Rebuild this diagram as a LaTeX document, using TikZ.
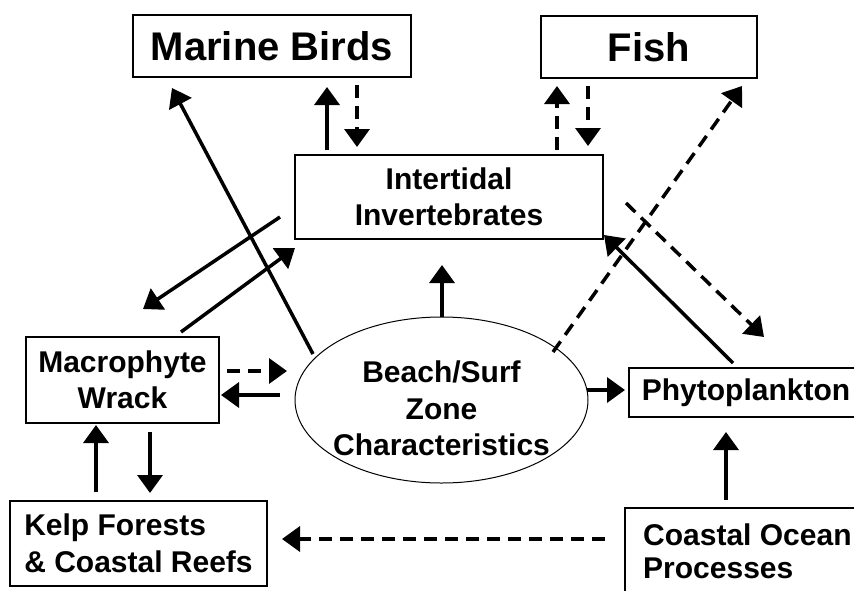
\documentclass[tikz,border=0pt]{standalone}
\usepackage{fontspec}
\setmainfont{Liberation Sans}
\usetikzlibrary{arrows.meta,shapes.geometric}
\begin{document}
\begin{tikzpicture}[x=1pt,y=-1pt,
  box/.style={draw,line width=2.5pt,inner sep=0pt,font=\bfseries\fontsize{30}{36.5}\selectfont,align=center},
  bigbox/.style={box,font=\bfseries\fontsize{40}{48}\selectfont},
  txt/.style={inner sep=0pt,font=\bfseries\fontsize{30}{36.5}\selectfont},
  arr/.style={line width=3.5pt,-{Triangle[length=18pt,width=25pt]}},
  darr/.style={arr,dash pattern=on 13pt off 8pt}]
\clip (0,0) rectangle (854,590);
\fill[white] (0,0) rectangle (854,590);
% boxes
\node[bigbox,minimum width=278pt,minimum height=62pt] (birds) at (272,46) {Marine Birds};
\node[bigbox,minimum width=216pt,minimum height=62pt] (fish) at (649,47) {Fish};
\node[box,minimum width=308pt,minimum height=84pt] (inter) at (449,197) {Intertidal\\Invertebrates};
\node[box,minimum width=193pt,minimum height=86pt] (wrack) at (122.5,380) {Macrophyte\\Wrack};
\node[box,align=left,minimum width=257pt,minimum height=85pt] (kelp) at (138.5,543.5) {Kelp Forests\\\& Coastal Reefs};
\node[box,minimum width=234pt,minimum height=49pt] (phyto) at (746,392.5) {Phytoplankton};
\node[draw,line width=2.5pt,inner sep=0pt,minimum width=255pt,minimum height=112pt] (coast) at (752.5,564) {};
\node[txt,anchor=base west,align=left,font=\bfseries\fontsize{30}{33}\selectfont] (coasttext) at (643,578) {Coastal Ocean\\Processes};
\node[draw,line width=1pt,ellipse,inner sep=0pt,minimum width=293pt,minimum height=166pt] (beach) at (441.5,400) {};
\node[txt,align=center] (beachtext) at (441.5,408.5) {Beach/Surf\\Zone\\Characteristics};
% connector end points
\coordinate (a1s) at (327,150); \coordinate (a1e) at (327,87);
\coordinate (a2s) at (357,85);  \coordinate (a2e) at (357,147);
\coordinate (a3s) at (557,150); \coordinate (a3e) at (557,86);
\coordinate (a4s) at (588,86);  \coordinate (a4e) at (588,146);
\coordinate (a5s) at (313,354); \coordinate (a5e) at (172,88);
\coordinate (a6s) at (553,352); \coordinate (a6e) at (742,86);
\coordinate (a7s) at (280,217); \coordinate (a7e) at (143,309);
\coordinate (a8s) at (181,332); \coordinate (a8e) at (295,248);
\coordinate (a9s) at (227,371); \coordinate (a9e) at (287,371);
\coordinate (a10s) at (280,395); \coordinate (a10e) at (221,395);
\coordinate (a11s) at (96,492); \coordinate (a11e) at (96,425);
\coordinate (a12s) at (150,432); \coordinate (a12e) at (150,493);
\coordinate (a13s) at (442,317); \coordinate (a13e) at (442,265);
\coordinate (a14s) at (587,390); \coordinate (a14e) at (625,390);
\coordinate (a15s) at (733,363); \coordinate (a15e) at (604,235);
\coordinate (a16s) at (626,203); \coordinate (a16e) at (764,337);
\coordinate (a17s) at (726,500); \coordinate (a17e) at (726,432);
\coordinate (a18s) at (605,539); \coordinate (a18e) at (282,539);
% connectors
\draw[arr]  (a1s) -- (a1e);
\draw[darr] (a2s) -- (a2e);
\draw[darr] (a3s) -- (a3e);
\draw[darr] (a4s) -- (a4e);
\draw[arr]  (a5s) -- (a5e);
\draw[darr] (a6s) -- (a6e);
\draw[arr]  (a7s) -- (a7e);
\draw[arr]  (a8s) -- (a8e);
\draw[darr] (a9s) -- (a9e);
\draw[arr]  (a10s) -- (a10e);
\draw[arr]  (a11s) -- (a11e);
\draw[arr]  (a12s) -- (a12e);
\draw[arr]  (a13s) -- (a13e);
\draw[arr]  (a14s) -- (a14e);
\draw[arr]  (a15s) -- (a15e);
\draw[darr] (a16s) -- (a16e);
\draw[arr]  (a17s) -- (a17e);
\draw[darr] (a18s) -- (a18e);
\end{tikzpicture}
\end{document}
